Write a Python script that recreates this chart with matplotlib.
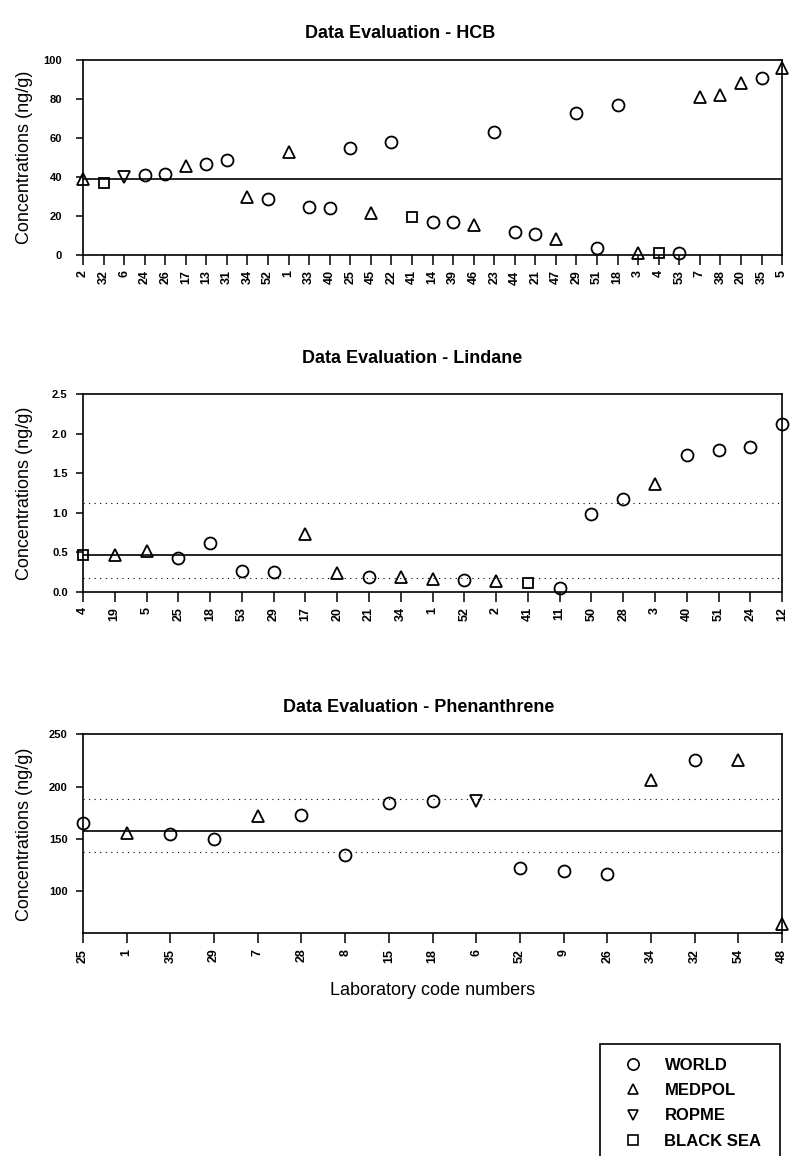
import matplotlib
matplotlib.use('Agg')
import matplotlib.pyplot as plt
from matplotlib.lines import Line2D
from matplotlib.patches import Rectangle

plt.rcParams['font.family'] = ['Liberation Sans', 'DejaVu Sans']

# HCB
hcb_labs = ['2', '32', '6', '24', '26', '17', '13', '31', '34', '52', '1', '33',
            '40', '25', '45', '22', '41', '14', '39', '46', '23', '44', '21', '47',
            '29', '51', '18', '3', '4', '53', '7', '38', '20', '35', '5']
hcb_vals = [39, 37, 40, 40.9, 41.7, 45.5, 46.8, 48.5, 30, 28.9, 53, 24.4,
            24, 55, 21.5, 58, 19.5, 16.8, 17.1, 15.4, 63, 11.6, 10.9, 8,
            73, 3.4, 77, 1.2, 0.8, 0.8, 81, 82, 88, 91, 96]
hcb_grp = ['M', 'B', 'R', 'W', 'W', 'M', 'W', 'W', 'M', 'W', 'M', 'W',
           'W', 'W', 'M', 'W', 'B', 'W', 'W', 'M', 'W', 'W', 'W', 'M',
           'W', 'W', 'W', 'M', 'B', 'W', 'M', 'M', 'M', 'W', 'M']
hcb_ref = 38.8

# Lindane
lin_labs = ['4', '19', '5', '25', '18', '53', '29', '17', '20', '21', '34', '1',
            '52', '2', '41', '11', '50', '28', '3', '40', '51', '24', '12']
lin_vals = [0.465, 0.47, 0.52, 0.42, 0.61, 0.26, 0.25, 0.73, 0.23, 0.19, 0.18, 0.165,
            0.15, 0.14, 0.11, 0.04, 0.98, 1.17, 1.36, 1.73, 1.80, 1.83, 2.13]
lin_grp = ['B', 'M', 'M', 'W', 'W', 'W', 'W', 'M', 'M', 'W', 'M', 'M',
           'W', 'M', 'B', 'W', 'W', 'W', 'M', 'W', 'W', 'W', 'W']
lin_ref = 0.47
lin_lims = [0.17, 1.12]

# Phenanthrene
phe_labs = ['25', '1', '35', '29', '7', '28', '8', '15', '18', '6', '52', '9',
            '26', '34', '32', '54', '48']
phe_vals = [165, 156, 154.5, 150.4, 172, 172.6, 135, 184, 186, 186, 122, 119.3,
            116.2, 206, 225.6, 225, 69]
phe_grp = ['W', 'M', 'W', 'W', 'M', 'W', 'W', 'W', 'W', 'R', 'W', 'W',
           'W', 'M', 'W', 'M', 'M']
phe_ref = 157.5
phe_lims = [138, 188]

markers = {'W': ('o', 8.6), 'M': ('^', 8.0), 'R': ('v', 8.0), 'B': ('s', 7.2)}
names = {'W': 'WORLD', 'M': 'MEDPOL', 'R': 'ROPME', 'B': 'BLACK SEA'}
order = ['W', 'M', 'R', 'B']


def panel(rect, title, title_xy, labs, vals, grp, ref, lims, ylim, yticks,
          yfmt, ypad):
    ax = fig.add_axes(rect)
    x = list(range(len(labs)))
    for key in order:
        xs = [i for i, g in zip(x, grp) if g == key]
        ys = [v for v, g in zip(vals, grp) if g == key]
        m, s = markers[key]
        ax.plot(xs, ys, linestyle='none', marker=m, markersize=s,
                markerfacecolor='none', markeredgecolor='black',
                markeredgewidth=1.3, clip_on=False, zorder=3)
    ax.axhline(ref, color='black', lw=1.2)
    for l in lims:
        ax.axhline(l, color='black', lw=0.8, linestyle=(0, (1, 4)))
    ax.set_xlim(0, len(labs) - 1)
    ax.set_ylim(*ylim)
    ax.set_xticks(x)
    ax.set_xticklabels(labs, rotation=90, fontsize=9, fontweight='bold')
    ax.set_yticks(yticks)
    ax.set_yticklabels([yfmt.format(t) for t in yticks], fontsize=8,
                       fontweight='bold')
    ax.tick_params(axis='x', direction='out', length=7, width=1.1, pad=4)
    ax.tick_params(axis='y', direction='out', length=5, width=1.1, pad=ypad)
    for sp in ax.spines.values():
        sp.set_linewidth(1.2)
    ax.set_ylabel('Concentrations (ng/g)', fontsize=13)
    ax.yaxis.set_label_coords(-0.071, 0.5)
    fig.text(title_xy[0], title_xy[1], title, ha='center', va='center',
             fontsize=13, fontweight='bold')
    return ax


fig = plt.figure(figsize=(7.9, 11.56), dpi=100)

panel([0.105, 0.7794, 0.885, 0.1687], 'Data Evaluation - HCB', (0.506, 0.971),
      hcb_labs, hcb_vals, hcb_grp, hcb_ref, [], (0, 100),
      [0, 20, 40, 60, 80, 100], '{:d}', 10)
panel([0.105, 0.4882, 0.885, 0.1707], 'Data Evaluation - Lindane', (0.522, 0.690),
      lin_labs, lin_vals, lin_grp, lin_ref, lin_lims, (0, 2.5),
      [0.0, 0.5, 1.0, 1.5, 2.0, 2.5], '{:.1f}', 6)
ax3 = panel([0.105, 0.1926, 0.885, 0.1722], 'Data Evaluation - Phenanthrene',
            (0.530, 0.388), phe_labs, phe_vals, phe_grp, phe_ref, phe_lims,
            (60, 250), [100, 150, 200, 250], '{:d}', 6)
ax3.set_xlabel('Laboratory code numbers', fontsize=13, labelpad=14)

handles = [Line2D([], [], linestyle='none', marker=markers[k][0],
                  markersize=markers[k][1] - 0.5, markerfacecolor='none',
                  markeredgecolor='black', markeredgewidth=1.2)
           for k in order]
fig.legend(handles, [names[k] for k in order],
           loc='upper left', bbox_to_anchor=(0.7905, 0.085), frameon=False,
           handlelength=1.0, handletextpad=1.4, labelspacing=0.62,
           prop={'size': 12, 'weight': 'bold'}, borderpad=0, borderaxespad=0)
fig.add_artist(Rectangle((0.7595, -0.02), 0.2278, 0.1169, transform=fig.transFigure,
                         fill=False, lw=1.2, edgecolor='black', clip_on=False))

fig.savefig('out.png', dpi=100)
